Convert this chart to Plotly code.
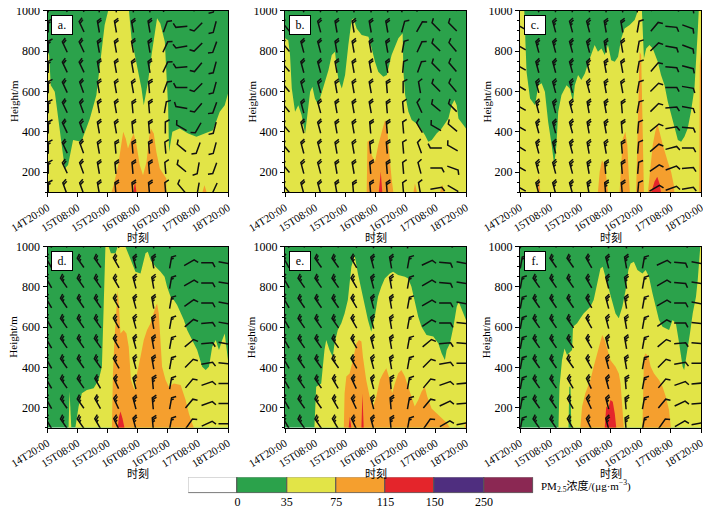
import math
import plotly.graph_objects as go

# ---------------- axes ----------------
T_MAX = 72                      # hours after 14T20:00
H_MIN, H_MAX = 100, 1000        # metres
TIME_TICKS = [0, 12, 24, 36, 48, 60, 72]
TIME_LABELS = ["14T20:00", "15T08:00", "15T20:00", "16T08:00",
               "16T20:00", "17T08:00", "18T20:00"]

# ---------------- PM2.5 classes ----------------
LEVELS = ["0", "35", "75", "115", "150", "250"]
CLASS_COLORS = ["#ffffff", "#2ba24b", "#e2e447", "#f59f2e",
                "#e4252b", "#4f2e7f", "#8b2853"]
GREEN, YELLOW, ORANGE, RED = CLASS_COLORS[1:5]

FULL = [(0, H_MIN), (T_MAX, H_MIN), (T_MAX, H_MAX), (0, H_MAX)]

# ---------------- class boundaries (t [h], height [m]) ----------------
A_YELLOW = [(0, 100), (0, 797), (0.65, 780), (1.3, 631), (2.9, 598), (4.9, 400), (6.9, 218),
            (8.2, 235), (10.2, 359), (13.5, 350), (16.9, 466), (19.5, 582), (21.1, 763),
            (22.8, 929), (24.2, 1000), (32.5, 1000), (33.5, 863), (35.5, 730), (37.5, 615),
            (38.4, 532), (40.1, 648), (41.5, 780), (42.8, 896), (43.7, 962), (45.0, 937),
            (46.8, 846), (47.4, 697), (48.1, 532), (48.5, 301), (49.8, 400), (52.7, 416),
            (56.1, 392), (59.4, 375), (62.7, 392), (66.0, 408), (68.7, 499), (70.7, 532),
            (72, 590), (72, 100)]
A_ORANGE_1 = [(25.5, 100), (26.4, 135), (28.2, 235), (29.5, 334), (30.2, 400), (31.2, 367),
              (32.1, 317), (33.5, 367), (34.4, 392), (35.5, 334), (36.8, 235), (38.1, 185),
              (39.5, 251), (40.5, 367), (41.2, 416), (42.4, 392), (43.4, 301), (44.8, 218),
              (46.4, 185), (47.4, 168), (47.4, 100)]
A_ORANGE_2 = [(61.8, 100), (62.6, 135), (63.5, 100)]
A_RED = [(34.3, 100), (34.9, 155), (35.5, 100)]

B_YELLOW = [(0, 100), (0, 863), (1.3, 854), (2.0, 780), (2.7, 615), (4.0, 499), (5.3, 532),
            (6.6, 483), (8.0, 392), (8.6, 449), (10.0, 598), (10.9, 623), (11.9, 565),
            (13.3, 532), (13.9, 565), (15.9, 648), (17.3, 706), (18.6, 780), (19.9, 797),
            (20.6, 714), (21.2, 664), (22.6, 615), (23.9, 681), (25.2, 830), (26.5, 954),
            (27.2, 962), (28.5, 912), (30.5, 879), (33.2, 871), (34.5, 813), (35.8, 747),
            (37.1, 697), (39.1, 673), (40.5, 681), (42.4, 780), (45.1, 863), (46.8, 888),
            (47.1, 697), (47.8, 582), (49.1, 499), (50.4, 458), (53.1, 433), (55.7, 383),
            (57.0, 350), (58.4, 359), (60.3, 392), (62.3, 416), (65.0, 466), (66.3, 532),
            (67.4, 557), (68.3, 532), (69.0, 466), (71.0, 433), (72, 416), (72, 100)]
B_ORANGE_1 = [(32.5, 100), (32.8, 350), (33.8, 359), (34.5, 284), (35.8, 251), (37.1, 334),
              (38.5, 400), (39.8, 458), (40.5, 433), (41.1, 334), (41.8, 235), (42.4, 168),
              (43.1, 100)]
B_ORANGE_2 = [(51.1, 100), (51.7, 144), (52.5, 100)]
B_ORANGE_3 = [(61.7, 100), (62.6, 139), (63.4, 100)]
B_RED = [(37.3, 100), (38.1, 202), (38.7, 100)]

C_GREEN_1 = [(1.7, 1000), (2.0, 863), (2.6, 697), (4.0, 565), (6.0, 532), (7.3, 631),
             (8.6, 640), (9.9, 598), (11.2, 449), (12.6, 334), (13.6, 235), (14.5, 334),
             (15.2, 499), (16.5, 582), (18.5, 631), (19.8, 615), (21.1, 549), (21.8, 631),
             (23.1, 681), (24.4, 656), (25.8, 689), (27.1, 739), (28.4, 780), (29.7, 830),
             (31.0, 797), (32.4, 813), (33.7, 780), (35.0, 830), (36.3, 755), (37.7, 747),
             (39.0, 772), (40.3, 863), (41.6, 912), (43.6, 929), (45.6, 954), (46.9, 1000)]
C_GREEN_2 = [(48.5, 1000), (48.9, 863), (49.3, 763), (50.2, 813), (51.5, 830), (52.8, 813),
             (54.8, 747), (56.1, 681), (57.5, 631), (58.8, 549), (60.1, 483), (61.4, 416),
             (62.8, 359), (64.1, 350), (65.4, 375), (66.7, 416), (68.0, 499), (69.4, 615),
             (70.0, 780), (70.7, 896), (71.1, 1000)]
C_ORANGE_1 = [(7.0, 100), (7.5, 185), (8.1, 100)]
C_ORANGE_2 = [(31.0, 100), (31.7, 202), (32.6, 259), (33.7, 235), (34.4, 168), (35.0, 100)]
C_ORANGE_3 = [(39.6, 100), (40.3, 284), (40.9, 367), (41.9, 400), (42.7, 334), (43.2, 202),
              (43.7, 100)]
C_ORANGE_4 = [(46.2, 100), (46.6, 317), (47.2, 615), (47.6, 797), (48.2, 780), (48.5, 532),
              (48.9, 284), (49.3, 100)]
C_ORANGE_5 = [(50.9, 100), (51.9, 235), (52.8, 334), (53.8, 400), (54.6, 441), (55.5, 400),
              (56.8, 334), (58.8, 251), (60.1, 202), (61.2, 135), (61.4, 100)]
C_ORANGE_6 = [(71.3, 100), (71.5, 730), (72, 797), (72, 100)]
C_RED = [(52.2, 100), (53.5, 152), (54.6, 177), (55.5, 144), (56.1, 100)]

D_YELLOW = [(11.1, 100), (12.4, 205), (13.7, 271), (15.7, 287), (18.4, 296), (20.4, 337),
            (21.7, 403), (22.1, 619), (22.4, 784), (23.1, 1000), (24.4, 1000), (25.3, 967),
            (27.1, 967), (28.0, 1000), (31.1, 1000), (33.1, 934), (35.1, 876), (37.1, 867),
            (39.1, 967), (40.0, 975), (41.1, 934), (43.1, 900), (45.1, 876), (46.7, 851),
            (47.7, 801), (49.1, 751), (50.4, 735), (51.7, 710), (53.1, 668), (54.4, 635),
            (55.7, 586), (57.7, 536), (59.7, 486), (61.7, 403), (63.1, 387), (64.4, 403),
            (65.7, 503), (67.1, 536), (68.4, 486), (69.7, 536), (70.7, 569), (71.5, 486),
            (72, 436), (72, 100)]
D_YELLOW_2 = [(8.4, 100), (8.8, 279), (9.5, 100)]
D_ORANGE = [(25.7, 100), (26.1, 370), (26.7, 536), (27.5, 702), (28.0, 784), (28.5, 702),
            (29.1, 569), (30.4, 586), (31.5, 569), (32.4, 503), (33.3, 337), (34.7, 287),
            (35.7, 370), (37.1, 453), (38.4, 536), (39.7, 586), (41.1, 619), (43.1, 702),
            (43.7, 718), (44.4, 668), (45.1, 536), (45.7, 403), (47.1, 337), (48.4, 304),
            (50.4, 320), (53.1, 312), (55.1, 238), (56.4, 171), (57.7, 122), (58.4, 100)]
D_RED = [(28.0, 100), (28.5, 155), (29.1, 180), (29.9, 147), (30.7, 100)]

E_YELLOW = [(11.7, 100), (12.4, 304), (14.4, 320), (15.7, 486), (16.4, 536), (17.7, 486),
            (19.0, 453), (19.7, 519), (21.0, 586), (22.4, 619), (23.7, 668), (25.0, 735),
            (26.4, 900), (27.7, 958), (29.0, 867), (30.4, 784), (31.7, 702), (33.0, 635),
            (34.3, 577), (35.7, 652), (37.0, 751), (38.3, 801), (39.7, 842), (41.7, 867),
            (43.0, 876), (45.0, 859), (47.7, 851), (49.0, 842), (50.3, 801), (51.6, 735),
            (53.0, 652), (54.3, 602), (56.3, 561), (59.0, 553), (61.0, 519), (62.3, 470),
            (63.6, 437), (64.3, 486), (65.6, 519), (67.0, 602), (68.3, 702), (69.1, 726),
            (70.3, 685), (72, 635), (72, 100)]
E_ORANGE_1 = [(23.4, 100), (23.7, 271), (24.4, 354), (25.7, 370), (27.0, 437), (28.4, 519),
              (29.4, 536), (30.4, 528), (31.0, 453), (32.3, 337), (33.7, 254), (35.0, 205),
              (36.3, 254), (37.7, 337), (39.0, 370), (40.3, 395), (41.7, 337), (42.6, 271),
              (43.7, 320), (45.0, 370), (46.3, 387), (47.7, 354), (49.0, 304), (50.3, 254),
              (51.6, 205), (53.0, 238), (54.3, 279), (55.6, 304), (56.6, 254), (58.3, 196),
              (60.3, 171), (62.3, 147), (64.3, 125), (65.6, 100)]
E_ORANGE_2 = [(71.4, 100), (72, 132), (72, 100)]
E_RED_1 = [(25.3, 100), (25.8, 155), (26.4, 100)]
E_RED_2 = [(30.4, 100), (30.8, 271), (31.3, 100)]

F_YELLOW = [(15.3, 100), (15.7, 304), (16.7, 436), (17.7, 494), (18.7, 461), (20.7, 486),
            (21.1, 602), (22.7, 619), (24.0, 644), (25.3, 668), (26.7, 685), (28.0, 702),
            (29.3, 735), (30.7, 818), (32.0, 892), (32.9, 900), (34.0, 851), (35.3, 784),
            (36.7, 718), (38.0, 668), (39.3, 644), (40.7, 702), (42.0, 784), (43.1, 884),
            (44.0, 917), (45.3, 925), (46.7, 884), (48.7, 867), (50.0, 884), (51.3, 851),
            (52.7, 768), (54.0, 702), (55.3, 635), (56.7, 602), (58.0, 594), (59.3, 586),
            (60.7, 635), (62.0, 619), (63.1, 536), (64.0, 453), (64.7, 403), (65.3, 387),
            (66.0, 436), (66.7, 503), (67.6, 569), (68.7, 668), (70.0, 751), (70.7, 834),
            (71.3, 950), (71.7, 1000), (72, 1000), (72, 100)]
F_GREEN = [(19.3, 100), (19.6, 304), (20.1, 304), (20.4, 100)]
F_ORANGE_1 = [(24.0, 100), (24.7, 205), (26.0, 271), (28.0, 337), (29.3, 403), (30.7, 470),
              (32.0, 536), (32.7, 561), (33.7, 536), (34.7, 486), (36.0, 436), (38.0, 403),
              (39.3, 370), (40.0, 321), (40.7, 205), (41.3, 100)]
F_ORANGE_2 = [(48.7, 100), (48.9, 287), (49.3, 453), (50.0, 470), (51.1, 453), (52.0, 403),
              (53.3, 370), (55.3, 337), (56.7, 304), (58.0, 254), (59.3, 188), (60.0, 100)]
F_RED = [(33.7, 100), (34.3, 205), (35.1, 196), (36.0, 238), (36.9, 229), (37.7, 171),
         (38.3, 100)]

# ---------------- wind barbs: rows top -> bottom, direction the wind blows from [deg] ----------------
BARB_H = [1020, 920, 820, 720, 620, 520, 420, 320, 220, 120]
TOP_COLS = [0.3, 6.9, 13.6, 20.3, 27.1, 33.9, 40.5, 47.0, 53.5, 60.1, 66.7]
BOTTOM_COLS = [0.5, 6.5, 13.2, 20.0, 27.4, 34.7, 42.0, 49.1, 56.5, 63.6, 70.5]

A_DIR = [[0, 335, 335, 350, 350, 350, 350, 20, 265, 225, 195],
         [0, 335, 335, 350, 350, 350, 350, 20, 265, 225, 195],
         [0, 335, 335, 350, 350, 350, 350, 25, 260, 225, 200],
         [0, 335, 335, 350, 350, 350, 350, 25, 265, 220, 195],
         [0, 335, 340, 350, 350, 350, 355, 20, 270, 225, 195],
         [0, 335, 340, 350, 350, 355, 355, 10, 280, 220, 200],
         [0, 335, 340, 350, 350, 355, 355, 0, 300, 210, 195],
         [0, 335, 340, 350, 355, 355, 355, 355, 310, 200, 195],
         [0, 335, 340, 350, 355, 355, 355, 355, 310, 190, 200],
         [0, 340, 340, 350, 355, 355, 355, 355, 320, 190, 205]]
A_SPD = [6, 8, 8, 8, 8, 8, 8, 4, 4, 4, 4]

B_DIR = [[320, 345, 345, 350, 350, 350, 350, 15, 30, 315, 315],
         [320, 345, 345, 350, 350, 350, 350, 15, 30, 315, 315],
         [320, 345, 345, 350, 350, 350, 350, 10, 25, 315, 320],
         [320, 345, 345, 350, 350, 350, 350, 5, 20, 315, 320],
         [320, 345, 345, 350, 350, 350, 355, 0, 350, 315, 320],
         [320, 345, 345, 350, 350, 350, 355, 355, 335, 310, 315],
         [320, 345, 345, 350, 350, 355, 355, 355, 330, 300, 310],
         [320, 345, 345, 350, 350, 355, 355, 355, 340, 270, 300],
         [320, 345, 345, 350, 350, 355, 355, 355, 345, 90, 110],
         [320, 345, 345, 350, 355, 355, 355, 355, 350, 80, 120]]
B_SPD = [8, 8, 8, 8, 8, 8, 8, 4, 4, 4, 4]

C_DIR = [[300, 345, 345, 345, 345, 350, 350, 10, 40, 95, 110],
         [300, 345, 345, 345, 345, 350, 350, 10, 40, 95, 110],
         [300, 345, 345, 345, 345, 350, 350, 10, 45, 100, 110],
         [300, 345, 345, 345, 345, 350, 350, 10, 40, 95, 105],
         [300, 345, 345, 345, 345, 350, 350, 10, 45, 90, 100],
         [300, 345, 345, 345, 350, 350, 355, 10, 45, 85, 100],
         [300, 345, 345, 345, 350, 350, 355, 5, 50, 80, 95],
         [300, 345, 345, 345, 350, 350, 355, 5, 50, 75, 90],
         [300, 345, 345, 345, 350, 355, 355, 5, 55, 70, 85],
         [300, 345, 345, 345, 350, 355, 355, 5, 60, 70, 80]]
C_SPD = [10, 10, 10, 10, 10, 10, 8, 4, 4, 4, 4]

D_DIR = [[330, 325, 325, 325, 330, 345, 350, 10, 60, 90, 100],
         [330, 325, 325, 325, 330, 345, 350, 10, 60, 90, 100],
         [330, 325, 325, 325, 330, 345, 350, 10, 60, 90, 100],
         [330, 325, 325, 325, 330, 345, 350, 10, 55, 90, 100],
         [330, 325, 325, 325, 330, 345, 350, 10, 50, 85, 100],
         [330, 325, 325, 325, 330, 345, 350, 10, 50, 85, 100],
         [330, 325, 325, 325, 330, 345, 350, 10, 45, 80, 95],
         [330, 325, 325, 330, 335, 345, 355, 10, 40, 70, 90],
         [330, 325, 325, 330, 335, 345, 355, 10, 40, 70, 90],
         [330, 325, 325, 330, 335, 345, 355, 10, 35, 65, 90]]
D_SPD = [6, 10, 10, 10, 10, 10, 10, 6, 4, 4, 4]

E_DIR = [[330, 325, 325, 325, 330, 345, 350, 10, 65, 95, 100],
         [330, 325, 325, 325, 330, 345, 350, 10, 65, 95, 100],
         [330, 325, 325, 325, 330, 345, 350, 10, 60, 95, 100],
         [330, 325, 325, 325, 330, 345, 350, 10, 60, 90, 100],
         [330, 325, 325, 325, 330, 345, 350, 10, 55, 90, 95],
         [330, 325, 325, 325, 330, 345, 350, 10, 50, 85, 95],
         [330, 325, 325, 325, 330, 345, 350, 10, 45, 80, 90],
         [330, 325, 325, 330, 335, 345, 355, 10, 40, 70, 85],
         [330, 325, 325, 330, 335, 345, 355, 10, 40, 65, 85],
         [330, 325, 325, 330, 335, 345, 355, 10, 35, 60, 80]]
E_SPD = [6, 10, 10, 10, 10, 10, 10, 6, 4, 4, 4]

F_DIR = [[10, 325, 325, 325, 330, 345, 350, 10, 65, 95, 100],
         [10, 325, 325, 325, 330, 345, 350, 10, 65, 95, 100],
         [10, 325, 325, 325, 330, 345, 350, 10, 60, 95, 100],
         [10, 325, 325, 325, 330, 345, 350, 10, 60, 90, 100],
         [10, 325, 325, 325, 330, 345, 350, 10, 55, 90, 95],
         [10, 325, 325, 325, 330, 345, 350, 10, 50, 85, 95],
         [10, 325, 325, 325, 330, 345, 350, 10, 45, 80, 90],
         [10, 325, 325, 330, 335, 345, 355, 10, 40, 70, 85],
         [10, 325, 325, 330, 335, 345, 355, 10, 40, 65, 85],
         [10, 325, 325, 330, 335, 345, 355, 10, 35, 60, 80]]
F_SPD = [6, 10, 10, 10, 10, 10, 10, 6, 4, 4, 4]

PANELS = [
    ("a.", GREEN, [(YELLOW, A_YELLOW), (ORANGE, A_ORANGE_1), (ORANGE, A_ORANGE_2), (RED, A_RED)],
     A_DIR, A_SPD, TOP_COLS),
    ("b.", GREEN, [(YELLOW, B_YELLOW), (ORANGE, B_ORANGE_1), (ORANGE, B_ORANGE_2),
                   (ORANGE, B_ORANGE_3), (RED, B_RED)], B_DIR, B_SPD, TOP_COLS),
    ("c.", YELLOW, [(GREEN, C_GREEN_1), (GREEN, C_GREEN_2), (ORANGE, C_ORANGE_1),
                    (ORANGE, C_ORANGE_2), (ORANGE, C_ORANGE_3), (ORANGE, C_ORANGE_4),
                    (ORANGE, C_ORANGE_5), (ORANGE, C_ORANGE_6), (RED, C_RED)],
     C_DIR, C_SPD, TOP_COLS),
    ("d.", GREEN, [(YELLOW, D_YELLOW), (YELLOW, D_YELLOW_2), (ORANGE, D_ORANGE), (RED, D_RED)],
     D_DIR, D_SPD, BOTTOM_COLS),
    ("e.", GREEN, [(YELLOW, E_YELLOW), (ORANGE, E_ORANGE_1), (ORANGE, E_ORANGE_2),
                   (RED, E_RED_1), (RED, E_RED_2)], E_DIR, E_SPD, BOTTOM_COLS),
    ("f.", GREEN, [(YELLOW, F_YELLOW), (GREEN, F_GREEN), (ORANGE, F_ORANGE_1),
                   (ORANGE, F_ORANGE_2), (RED, F_RED)], F_DIR, F_SPD, BOTTOM_COLS),
]

# ---------------- layout, in pixels of the 711x510 window ----------------
# the page body keeps its default 8px margin, so the figure covers the rest of the window
OFF = 8
W, H = 711 - OFF, 510 - OFF
X_DOM = [(47.5, 228.0), (285.0, 466.0), (520.0, 701.0)]
Y_DOM = [(10.7, 192.3), (246.7, 427.7)]
SERIF = "Liberation Serif, Times New Roman, serif"
CJK = "Liberation Serif, Noto Sans CJK SC, sans-serif"


def px_x(px):
    return (px - OFF) / W


def px_y(py):
    return 1 - (py - OFF) / H


STAFF_PX, BARB_PX, GAP_PX = 11.5, 4.8, 2.0


def add_barb(xs, ys, t, h, deg, spd, sx, sy):
    """one wind barb centred on (t, h); sx, sy are pixels per hour / per metre"""
    r = math.radians(deg)
    ux, uy = math.sin(r), math.cos(r)
    a = math.radians(62)
    vx = ux * math.cos(a) + uy * math.sin(a)
    vy = -ux * math.sin(a) + uy * math.cos(a)

    def pt(px, py):
        return t + px / sx, h + py / sy

    full, rest = divmod(int(spd), 4)
    ticks = [BARB_PX] * full + ([BARB_PX * 0.55] if rest >= 2 else [])
    tx, ty = ux * STAFF_PX / 2, uy * STAFF_PX / 2
    path = [pt(-tx, -ty), pt(tx, ty)]
    if ticks:
        path.append(pt(tx + vx * ticks[0], ty + vy * ticks[0]))
    for p in path:
        xs.append(p[0]); ys.append(p[1])
    xs.append(None); ys.append(None)
    for k, ln in enumerate(ticks[1:], start=1):
        bx, by = tx - ux * GAP_PX * k, ty - uy * GAP_PX * k
        for p in (pt(bx, by), pt(bx + vx * ln, by + vy * ln)):
            xs.append(p[0]); ys.append(p[1])
        xs.append(None); ys.append(None)


fig = go.Figure()
annotations = []
axes = {}

for i, (label, base, layers, dirs, spds, cols) in enumerate(PANELS):
    n = i + 1
    row, col = divmod(i, 3)
    x0, x1 = X_DOM[col]
    y0, y1 = Y_DOM[row]
    xa, ya = ("x", "y") if n == 1 else (f"x{n}", f"y{n}")
    xk, yk = ("xaxis", "yaxis") if n == 1 else (f"xaxis{n}", f"yaxis{n}")

    for color, poly in [(base, FULL)] + layers:
        fig.add_trace(go.Scatter(
            x=[p[0] for p in poly], y=[p[1] for p in poly], mode="lines",
            fill="toself", fillcolor=color, line=dict(width=0),
            hoverinfo="skip", showlegend=False, xaxis=xa, yaxis=ya))

    sx = (x1 - x0) / T_MAX
    sy = (y1 - y0) / (H_MAX - H_MIN)
    bx, by = [], []
    for r, h in enumerate(BARB_H):
        for c, t in enumerate(cols):
            add_barb(bx, by, t, h, dirs[r][c], spds[c], sx, sy)
    fig.add_trace(go.Scatter(
        x=bx, y=by, mode="lines", line=dict(color="#111111", width=1.5),
        hoverinfo="skip", showlegend=False, xaxis=xa, yaxis=ya))

    axes[xk] = dict(
        domain=[px_x(x0), px_x(x1)], range=[0, T_MAX], anchor=ya, automargin=False,
        tickmode="array", tickvals=TIME_TICKS, ticktext=TIME_LABELS, tickangle=-32,
        ticks="outside", ticklen=4, tickcolor="black", ticklabeloverflow="allow",
        showline=True, linecolor="black", linewidth=1, mirror=True,
        showgrid=False, zeroline=False, tickfont=dict(family=SERIF, size=11, color="black"))
    axes[yk] = dict(
        domain=[px_y(y1), px_y(y0)], range=[H_MIN, H_MAX], anchor=xa, automargin=False,
        tickmode="linear", tick0=0, dtick=200, ticklabeloverflow="allow",
        ticks="outside", ticklen=4, tickcolor="black",
        minor=dict(ticks="outside", ticklen=2, tickcolor="black", tickmode="linear",
                   tick0=0, dtick=50),
        showline=True, linecolor="black", linewidth=1, mirror=True,
        showgrid=False, zeroline=False, tickfont=dict(family=SERIF, size=12, color="black"))

    annotations.append(dict(
        text=label, xref=f"{xa} domain", yref=f"{ya} domain", x=0.022, y=0.975,
        xanchor="left", yanchor="top", showarrow=False, width=20, height=18,
        bgcolor="white", bordercolor="black", borderwidth=1, borderpad=0,
        font=dict(family=SERIF, size=12, color="black")))
    annotations.append(dict(
        text="时刻", xref="paper", yref="paper", x=px_x((x0 + x1) / 2),
        y=px_y(y1 + 45.5), xanchor="center", yanchor="middle", showarrow=False,
        font=dict(family=CJK, size=11, color="black")))
    annotations.append(dict(
        text="Height/m", xref="paper", yref="paper", x=px_x(x0 - 34),
        y=px_y((y0 + y1) / 2), xanchor="center", yanchor="middle", showarrow=False,
        textangle=-90, font=dict(family=SERIF, size=11, color="black")))

# ---------------- class legend bar ----------------
fig.add_trace(go.Bar(
    x=[k + 0.5 for k in range(len(CLASS_COLORS))], y=[1] * len(CLASS_COLORS), width=1,
    marker=dict(color=CLASS_COLORS, line=dict(color="#555555", width=1)),
    hoverinfo="skip", showlegend=False, xaxis="x7", yaxis="y7"))
axes["xaxis7"] = dict(
    domain=[px_x(188.3), px_x(533.3)], range=[0, len(CLASS_COLORS)], anchor="y7",
    automargin=False, ticklabeloverflow="allow",
    tickmode="array", tickvals=list(range(1, len(LEVELS) + 1)), ticktext=LEVELS,
    ticks="", showline=False, showgrid=False, zeroline=False,
    tickfont=dict(family=SERIF, size=12, color="black"))
axes["yaxis7"] = dict(domain=[px_y(493.3), px_y(477.3)], range=[0, 1], anchor="x7",
                      visible=False, automargin=False)
annotations.append(dict(
    text="PM<sub>2.5</sub>浓度/(μg·m<sup>−3</sup>)", xref="paper", yref="paper",
    x=px_x(539), y=px_y(486), xanchor="left", yanchor="middle", showarrow=False,
    font=dict(family=CJK, size=11, color="black")))

fig.update_layout(
    width=W, height=H, margin=dict(l=0, r=0, t=0, b=0, autoexpand=False),
    paper_bgcolor="white", plot_bgcolor="white",
    annotations=annotations, bargap=0, **axes)

fig.write_html("out.html")
